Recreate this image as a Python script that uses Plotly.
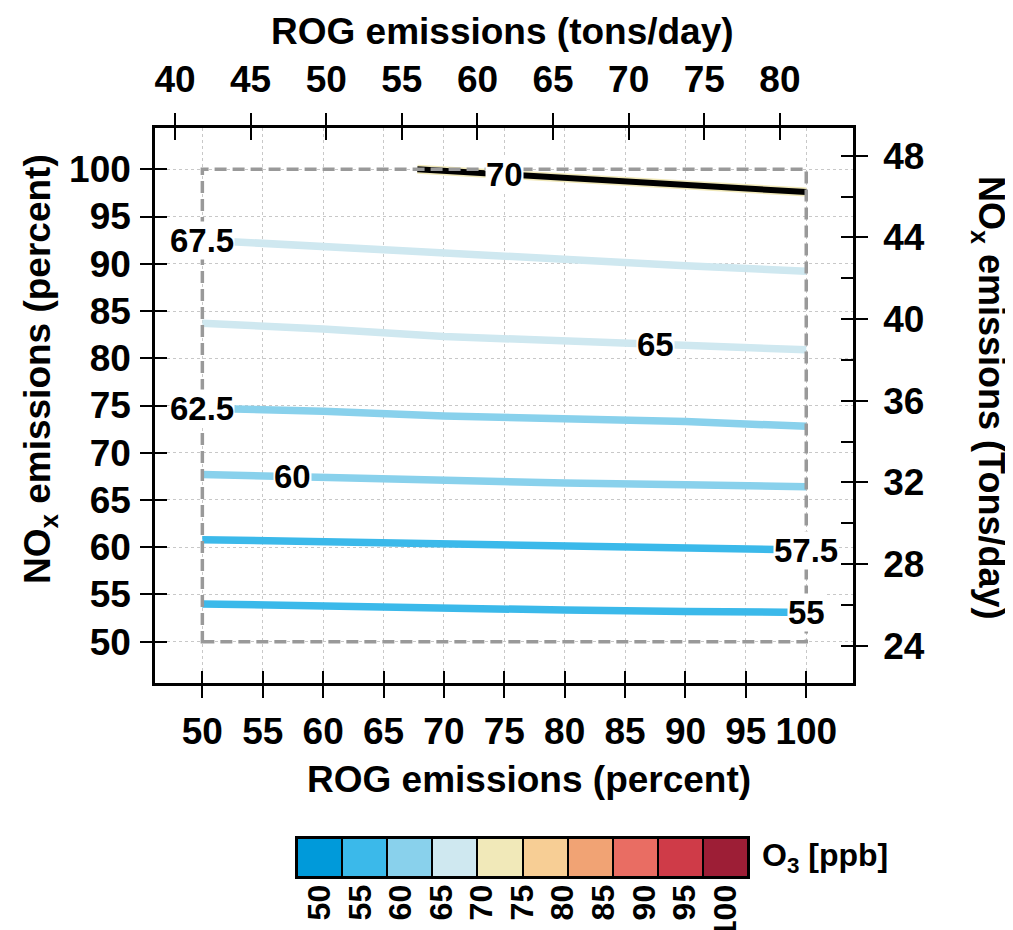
import numpy as np
import plotly.graph_objects as go

# ---------------- data ----------------
rog_pct = [50, 60, 70, 80, 90, 100]                  # ROG emissions (percent)
nox_55 = [54.0, 53.75, 53.5, 53.35, 53.2, 53.1]       # NOx (percent) on the 55 ppb contour
nox_575 = [60.8, 60.55, 60.3, 60.05, 59.9, 59.7]
nox_60 = [67.7, 67.35, 67.05, 66.8, 66.6, 66.4]
nox_625 = [74.7, 74.4, 73.9, 73.6, 73.3, 72.8]
nox_65 = [83.7, 83.1, 82.3, 81.8, 81.3, 80.9]
nox_675 = [92.5, 91.8, 91.1, 90.4, 89.8, 89.2]
rog_70 = [67.8, 75, 80, 90, 100]
nox_70 = [100.0, 99.45, 99.1, 98.35, 97.6]

contour_levels = [55, 57.5, 60, 62.5, 65, 67.5, 70]
contour_labels = ["55", "57.5", "60", "62.5", "65", "67.5", "70"]
label_rog = [100, 100, 57.5, 50, 87.5, 50, 75]        # where each label sits along its line

study_box_rog = [50, 100]
study_box_nox = [50, 100]

o3_edges = [50, 55, 60, 65, 70, 75, 80, 85, 90, 95, 100]
o3_colors = ["#009ADA", "#3BB9EA", "#89D1EC", "#CFE8F0", "#F1E9B9",
             "#F7CE95", "#F1A374", "#E96D63", "#CF3B48", "#9D1E36"]
o3_tick_text = ["50", "55", "60", "65", "70", "75", "80", "85", "90", "95", "100"]

rog_pct_ticks = [50, 55, 60, 65, 70, 75, 80, 85, 90, 95, 100]
nox_pct_ticks = [50, 55, 60, 65, 70, 75, 80, 85, 90, 95, 100]
rog_tons_ticks = [40, 45, 50, 55, 60, 65, 70, 75, 80]
nox_tons_ticks = [24, 28, 32, 36, 40, 44, 48]

# ---------------- styling ----------------
FONT = "Liberation Sans, Arial, sans-serif"
OFF = 8                      # the page body adds an 8px margin; compensate for it
W, H = 1013 - OFF, 930 - OFF
REF_L, REF_R, REF_T, REF_MAIN_B, REF_B = 155, 853, 128, 683, 880
ML, MT = REF_L - OFF, REF_T - OFF
MR = W - (REF_R - OFF)
MB = H - (REF_B - OFF)
PW, PH = W - ML - MR, H - MT - MB


def px_x(px):
    return (px - REF_L) / PW


def px_y(py):
    return (REF_B - py) / PH


main_dom_y = [px_y(REF_MAIN_B), 1.0]
cb_dom_x = [px_x(297), px_x(748)]
cb_dom_y = [px_y(877), px_y(838)]

X_PCT_RANGE = [46.08, 103.87]
Y_PCT_RANGE = [45.63, 104.37]
X_TON_RANGE = [38.68, 84.83]
Y_TON_RANGE = [22.17, 49.36]

tickfont = dict(family=FONT, size=37, color="black", weight="bold")
TL = 12

fig = go.Figure()

series = [(rog_pct, nox_55), (rog_pct, nox_575), (rog_pct, nox_60), (rog_pct, nox_625),
          (rog_pct, nox_65), (rog_pct, nox_675), (rog_70, nox_70)]


def level_color(lv):
    idx = int((lv - o3_edges[0]) // 5)
    return o3_colors[idx]


for lv, (xs, ys) in zip(contour_levels, series):
    col = level_color(lv)
    if lv >= 70:
        fig.add_trace(go.Scatter(x=xs, y=ys, mode="lines", line=dict(color=col, width=9),
                                 hoverinfo="skip", showlegend=False))
        col = "black"
        w = 6
    else:
        w = 7.5
    fig.add_trace(go.Scatter(x=xs, y=ys, mode="lines", line=dict(color=col, width=w),
                             hoverinfo="skip", showlegend=False))

# colour key
cb_centers = [(a + b) / 2 for a, b in zip(o3_edges[:-1], o3_edges[1:])]
fig.add_trace(go.Bar(x=cb_centers, y=[1] * len(cb_centers), width=5,
                     marker=dict(color=o3_colors, line=dict(color="black", width=2)),
                     xaxis="x3", yaxis="y3", hoverinfo="skip", showlegend=False))

# dummy traces so the secondary / overlay axes are drawn
for xa, ya in [("x2", "y2"), ("x4", "y4"), ("x5", "y5")]:
    fig.add_trace(go.Scatter(x=[None], y=[None], xaxis=xa, yaxis=ya, mode="lines",
                             hoverinfo="skip", showlegend=False))

# study domain (dashed box)
fig.add_shape(type="rect", xref="x", yref="y", x0=study_box_rog[0], x1=study_box_rog[1],
              y0=study_box_nox[0], y1=study_box_nox[1],
              line=dict(color="#999999", width=3.5, dash="12px,6px"), layer="above")

# contour labels
for lab, lv, lx, (xs, ys) in zip(contour_labels, contour_levels, label_rog, series):
    ly = float(np.interp(lx, xs, ys))
    fig.add_annotation(x=lx, y=ly, xref="x", yref="y", text=lab, showarrow=False,
                       xanchor="center", yanchor="middle", bgcolor="white", borderpad=0,
                       font=dict(family=FONT, size=33, color="black", weight="bold"))

titlefont = dict(family=FONT, size=37, color="black", weight="bold")


def title_ann(text, px, py, angle=0, anchor="center", size=None):
    f = dict(titlefont)
    if size:
        f["size"] = size
    fig.add_annotation(x=px_x(px), y=px_y(py), xref="paper", yref="paper", showarrow=False,
                       xanchor=anchor, yanchor="middle", text=text, textangle=angle, font=f)


title_ann("ROG emissions (percent)", 529, 779)
title_ann("ROG emissions (tons/day)", 502, 31)
title_ann("NO<sub>x</sub> emissions (percent)", 40, 369, angle=-90)
title_ann("NO<sub>x</sub> emissions (Tons/day)", 989, 397, angle=90, size=36)
title_ann("O<sub>3</sub> [ppb]", 760, 857, anchor="left", size=32)

grid = dict(showgrid=True, gridcolor="#c8c8c8", gridwidth=1, griddash="dot")
noline = dict(showgrid=False, zeroline=False, showline=False, automargin=False)
common = dict(automargin=False, zeroline=False)

fig.update_layout(
    template="none",
    width=W, height=H, margin=dict(l=ML, r=MR, t=MT, b=MB, autoexpand=False),
    paper_bgcolor="white", plot_bgcolor="white",
    xaxis=dict(range=X_PCT_RANGE, domain=[0, 1], anchor="y", side="bottom",
               tickmode="array", tickvals=rog_pct_ticks, ticks="outside", ticklen=TL,
               tickwidth=2, tickcolor="black", tickfont=tickfont, ticklabelstandoff=2,
               showline=True, linecolor="black", linewidth=2.5, **common, **grid),
    yaxis=dict(range=Y_PCT_RANGE, domain=main_dom_y, anchor="x", side="left",
               tickmode="array", tickvals=nox_pct_ticks, ticks="outside", ticklen=TL,
               tickwidth=2, tickcolor="black", tickfont=tickfont, ticklabelstandoff=2,
               showline=True, linecolor="black", linewidth=2.5, **common, **grid),
    xaxis2=dict(range=X_TON_RANGE, overlaying="x", anchor="y", side="top",
                tickmode="array", tickvals=rog_tons_ticks, ticks="outside", ticklen=TL,
                tickwidth=2, tickcolor="black", tickfont=tickfont, ticklabelstandoff=6,
                showline=True, linecolor="black", linewidth=2.5, showgrid=False, **common),
    yaxis2=dict(range=Y_TON_RANGE, overlaying="y", anchor="x", side="right",
                tickmode="array", tickvals=nox_tons_ticks, ticks="outside", ticklen=TL,
                tickwidth=2, tickcolor="black", tickfont=tickfont, ticklabelstandoff=8,
                showline=True, linecolor="black", linewidth=2.5, showgrid=False, **common),
    xaxis4=dict(range=X_PCT_RANGE, overlaying="x", anchor="y", side="bottom",
                tickmode="array", tickvals=rog_pct_ticks, ticks="inside", ticklen=TL,
                tickwidth=2, tickcolor="black", showticklabels=False, **noline),
    yaxis4=dict(range=Y_PCT_RANGE, overlaying="y", anchor="x", side="left",
                tickmode="array", tickvals=nox_pct_ticks, ticks="inside", ticklen=TL,
                tickwidth=2, tickcolor="black", showticklabels=False, **noline),
    xaxis5=dict(range=X_TON_RANGE, overlaying="x", anchor="y", side="top",
                tickmode="array", tickvals=rog_tons_ticks, ticks="inside", ticklen=TL,
                tickwidth=2, tickcolor="black", showticklabels=False, **noline),
    yaxis5=dict(range=Y_TON_RANGE, overlaying="y", anchor="x", side="right",
                tickmode="linear", tick0=24, dtick=2, ticks="inside", ticklen=TL,
                tickwidth=2, tickcolor="black", showticklabels=False, **noline),
    xaxis3=dict(range=[o3_edges[0], o3_edges[-1]], domain=cb_dom_x, anchor="y3",
                tickmode="array", tickvals=list(np.linspace(cb_centers[0], cb_centers[-1], len(o3_tick_text))),
                ticktext=o3_tick_text, tickangle=-90, ticks="", ticklabelstandoff=-7,
                tickfont=dict(family=FONT, size=32, color="black", weight="bold"),
                showline=True, mirror=True, linecolor="black", linewidth=2,
                showgrid=False, **common),
    yaxis3=dict(range=[0, 1], domain=cb_dom_y, anchor="x3", showticklabels=False, ticks="",
                showline=True, mirror=True, linecolor="black", linewidth=2,
                showgrid=False, **common),
    bargap=0,
    showlegend=False,
)

fig.write_html("out.html")
